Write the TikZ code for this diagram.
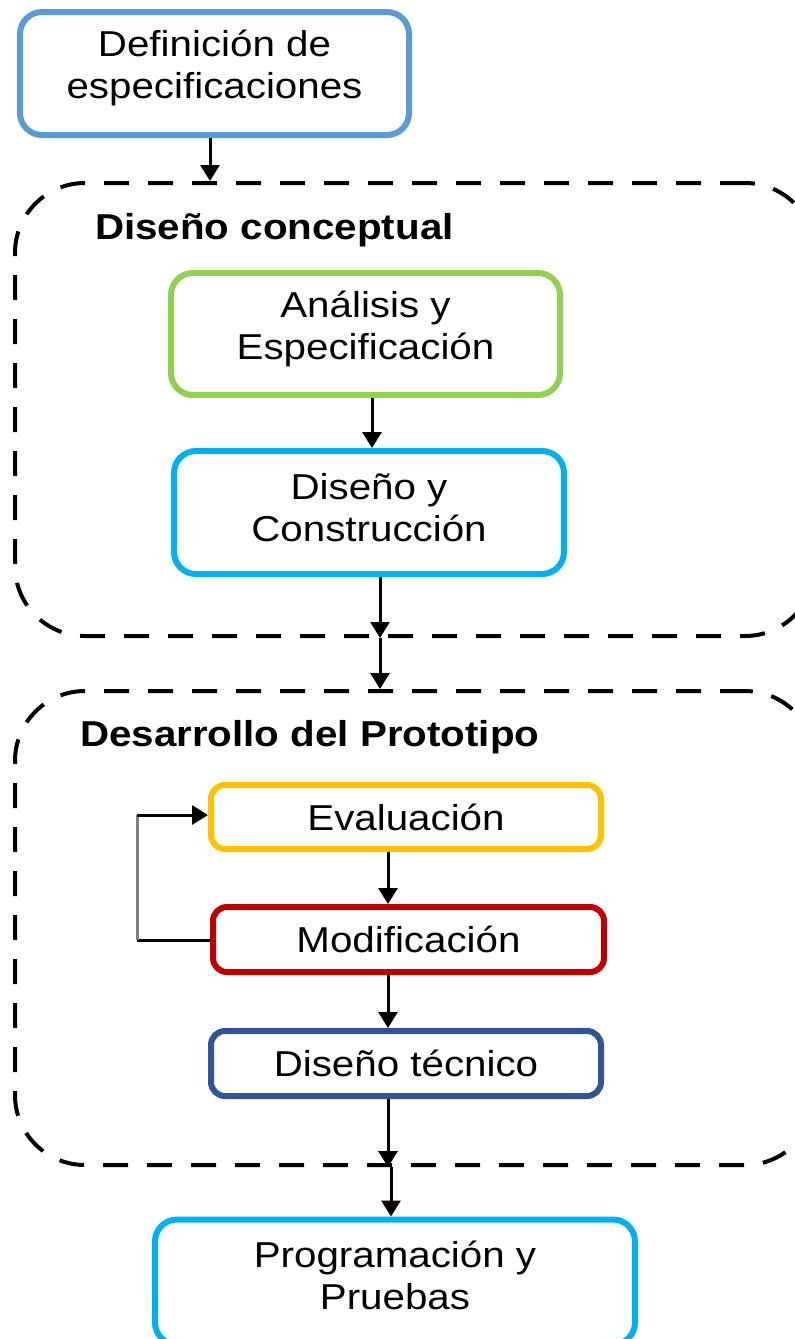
\documentclass[tikz,border=0pt]{standalone}
\usepackage{fontspec}
\setmainfont{Liberation Sans}[FakeStretch=1.12]
\usetikzlibrary{arrows.meta}
\definecolor{cblue}{HTML}{5B9BD5}
\definecolor{cgreen}{HTML}{92D050}
\definecolor{ccyan}{HTML}{00B0F0}
\definecolor{corange}{HTML}{FFC000}
\definecolor{cred}{HTML}{C00000}
\definecolor{cdblue}{HTML}{2F5597}
\tikzset{
  box/.style={draw, line width=6pt, rounded corners=22pt, fill=white, align=center,
    font=\fontsize{36}{42}\selectfont, inner sep=0pt},
  txt/.style={align=center, font=\fontsize{36}{42}\selectfont, inner sep=0pt},
  container/.style={draw, dashed, dash pattern=on 25pt off 19pt, line width=4pt,
    rounded corners=70pt, inner sep=0pt},
  lab/.style={anchor=west, font=\fontsize{36}{42}\selectfont\bfseries, inner sep=0pt},
  arr/.style={line width=3pt, -{Triangle[length=16pt,width=19pt]}},
  ln/.style={line width=3pt}
}
\begin{document}
\begin{tikzpicture}[x=1pt,y=-1pt]
\useasboundingbox (0,0) rectangle (795,1339);
\clip (0,0) rectangle (795,1339);
\fill[white] (0,0) rectangle (795,1339);
% containers
\node[container, minimum width=800pt, minimum height=453pt] (c1) at (415,409.5) {};
\node[container, minimum width=800pt, minimum height=474pt] (c2) at (415,928) {};
\node[lab] (l1) at (95,230) {Diseño conceptual};
\node[lab] (l2) at (80,737) {Desarrollo del Prototipo};
% boxes
\node[box, draw=cblue, minimum width=389pt, minimum height=123pt] (def) at (214.5,73.5) {};
\node[txt] (deft) at (214.5,68) {Definición de\\especificaciones};
\node[box, draw=cgreen, minimum width=389pt, minimum height=122pt] (ana) at (365.5,334) {};
\node[txt] (anat) at (365.5,329) {Análisis y\\Especificación};
\node[box, draw=ccyan, minimum width=390pt, minimum height=123pt] (dyc) at (369,512.5) {};
\node[txt] (dyct) at (369,508) {Diseño y\\Construcción};
\node[box, draw=corange, minimum width=390pt, minimum height=64pt, rounded corners=14pt] (eva) at (406,817) {Evaluación};
\node[box, draw=cred, minimum width=391pt, minimum height=65pt, rounded corners=14pt] (mod) at (408.5,939.5) {Modificación};
\node[box, draw=cdblue, minimum width=390pt, minimum height=65pt, rounded corners=14pt] (dt) at (406,1063.5) {Diseño técnico};
\node[box, draw=ccyan, minimum width=480pt, minimum height=125pt] (prog) at (395,1282) {};
\node[txt] (progt) at (395,1275) {Programación y\\Pruebas};
% arrow x positions
\coordinate (xa) at (210,0);
\coordinate (xb) at (372,0);
\coordinate (xc) at (380,0);
\coordinate (xd) at (388,0);
\coordinate (xe) at (391,0);
\draw[arr] (def.south -| xa) -- (c1.north -| xa);
\draw[arr] (ana.south -| xb) -- (dyc.north -| xb);
\draw[arr] (dyc.south -| xc) -- (c1.south -| xc);
\draw[arr] (c1.south -| xc) -- (c2.north -| xc);
\draw[arr] (eva.south -| xd) -- (mod.north -| xd);
\draw[arr] (mod.south -| xd) -- (dt.north -| xd);
\draw[arr] (dt.south -| xd) -- (c2.south -| xd);
\draw[arr] (c2.south -| xe) -- (prog.north -| xe);
% loop
\coordinate (lp1) at (137,940);
\coordinate (lp2) at (137,815);
\draw[ln] (mod.west |- lp1) -- (lp1);
\draw[ln, gray] (lp1) -- (lp2);
\draw[arr] (lp2) -- (eva.west |- lp2);
\end{tikzpicture}
\end{document}
